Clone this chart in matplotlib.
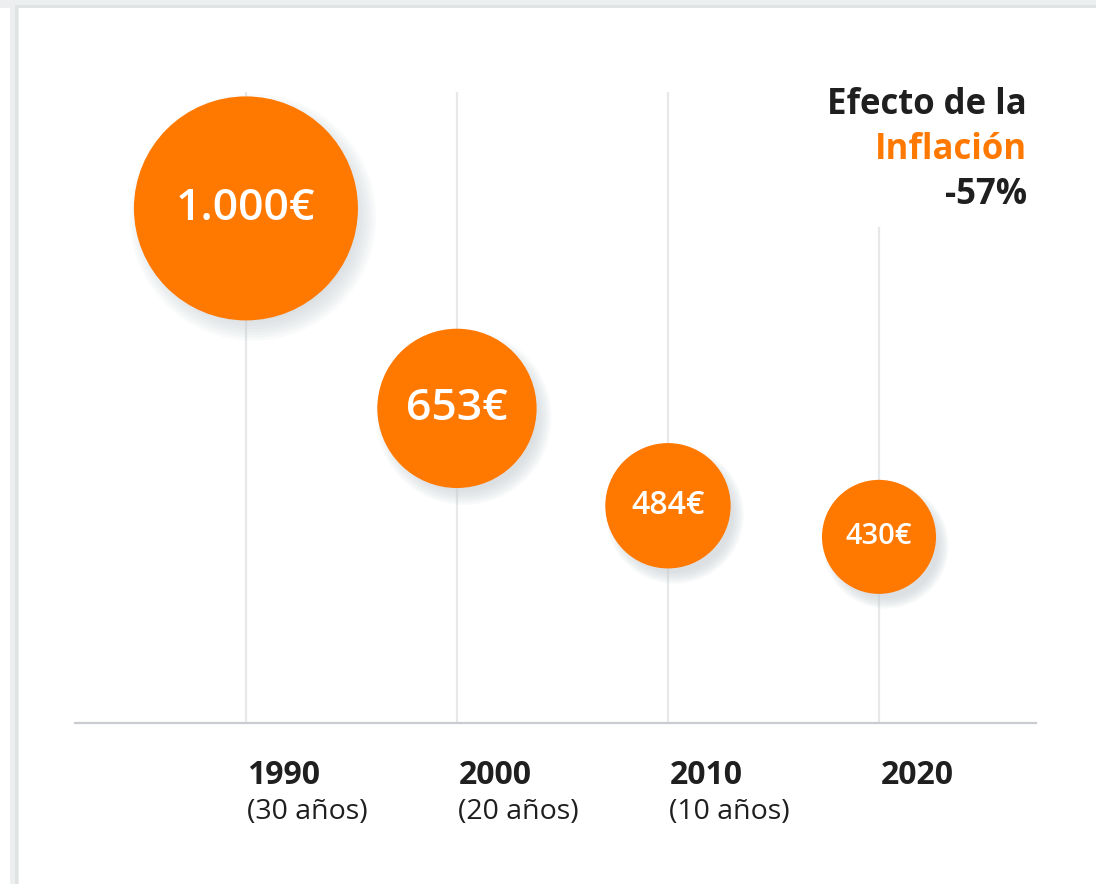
import numpy as np
import matplotlib.pyplot as plt
import matplotlib.transforms as mtransforms
from matplotlib.patches import Rectangle

plt.rcParams['font.family'] = ['Open Sans', 'DejaVu Sans']

# data
years = ['1990', '2000', '2010', '2020']
periods = ['(30 años)', '(20 años)', '(10 años)', '']
values = [1000, 653, 484, 430]
labels = ['1.000€', '653€', '484€', '430€']
label_sizes = [32, 32, 23, 21]

orange = '#ff7800'
dark = '#1f1f1f'
grid_c = '#e6e8ea'
base_c = '#c9cdd1'

W, H = 1096, 884
fig = plt.figure(figsize=(W / 100, H / 100), dpi=100)
fig.patch.set_facecolor('white')

# frame shadow on top / left
fig.add_artist(Rectangle((10 / W, 0), 9 / W, 1, transform=fig.transFigure,
                         facecolor='#eceeef', edgecolor='none', zorder=0))
fig.add_artist(Rectangle((0, 1 - 8 / H), 1, 8 / H, transform=fig.transFigure,
                         facecolor='#eceeef', edgecolor='none', zorder=0))
fig.add_artist(Rectangle((15 / W, 1 - 8 / H), 1, 3 / H, transform=fig.transFigure,
                         facecolor='#dfe3e4', edgecolor='none', zorder=0))
fig.add_artist(Rectangle((15 / W, 0), 3 / W, 1 - 5 / H, transform=fig.transFigure,
                         facecolor='#dfe3e4', edgecolor='none', zorder=0))

# axes placed so baseline sits at y=723px, spans x 75..1036px
ax = fig.add_axes([75 / W, (H - 723) / H, (1036 - 75) / W, (723 - 92) / H])
ax.set_facecolor('none')
x = np.arange(len(years))
ax.set_xlim(-0.81, 3.744)
ax.set_ylim(107, 1202)

for s in ['top', 'right', 'left']:
    ax.spines[s].set_visible(False)
ax.spines['bottom'].set_color(base_c)
ax.spines['bottom'].set_linewidth(1.6)
ax.set_xticks([])
ax.set_yticks([])

grid_top = [1.0, 1.0, 1.0, 0.784]
for xi, top in zip(x, grid_top):
    ax.axvline(xi, ymin=0, ymax=top, color=grid_c, lw=1.6, zorder=1)

# bubble sizes: radius scales with value^0.8
r_max_px = 112
radii_pt = [r_max_px * (v / values[0]) ** 0.8 * 72 / 100 for v in values]
sizes = np.array([(2 * r) ** 2 for r in radii_pt])

# soft shadow
shadow_tr = mtransforms.offset_copy(ax.transData, fig=fig, x=7, y=-9, units='dots')
for k in np.linspace(1.10, 0.92, 8):
    ax.scatter(x, values, s=sizes * k ** 2, color='#c7ced3', alpha=0.10,
               linewidths=0, transform=shadow_tr, zorder=2)

ax.scatter(x, values, s=sizes, color=orange, linewidths=0, zorder=3)

for xi, v, lab, fs in zip(x, values, labels, label_sizes):
    ax.text(xi, v, lab, ha='center', va='center', color='white',
            fontsize=fs, fontweight='semibold', zorder=4)

# year labels
for xi, yr, per in zip(x, years, periods):
    ax.annotate(yr, xy=(xi, 0), xycoords=('data', 'axes fraction'),
                xytext=(1, -38), textcoords='offset points',
                ha='left', va='center', fontsize=23, fontweight='bold', color=dark)
    if per:
        ax.annotate(per, xy=(xi, 0), xycoords=('data', 'axes fraction'),
                    xytext=(1, -64), textcoords='offset points',
                    ha='left', va='center', fontsize=20.5, color=dark)

# title block
tx = 1027 / W
fig.text(tx, 1 - 105 / H, 'Efecto de la', ha='right', va='center',
         fontsize=25, fontweight='bold', color=dark)
fig.text(tx, 1 - 150 / H, 'Inflación', ha='right', va='center',
         fontsize=25, fontweight='bold', color=orange)
fig.text(tx, 1 - 195 / H, '-57%', ha='right', va='center',
         fontsize=25, fontweight='bold', color=dark)

plt.savefig('out.png', dpi=100)
